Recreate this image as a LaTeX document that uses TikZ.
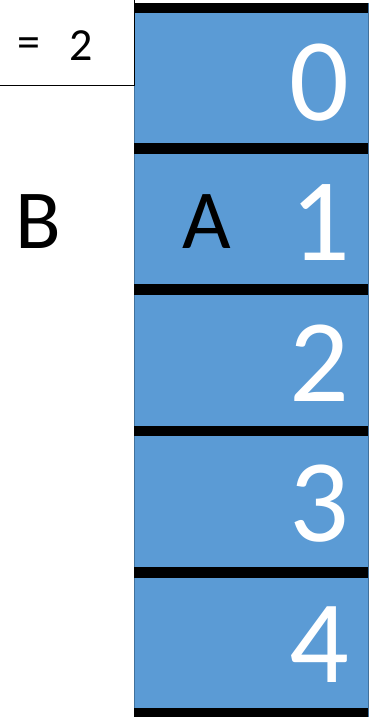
\documentclass[tikz,border=0pt]{standalone}
\usepackage{fontspec}
\setmainfont{Carlito}
\definecolor{cellblue}{HTML}{5B9BD5}
\definecolor{celledge}{HTML}{41719C}
\begin{document}
\begin{tikzpicture}[x=1pt,y=-1pt,
  bignum/.style={inner sep=0pt,text=white,font=\fontsize{118}{120}\selectfont},
  bigletter/.style={inner sep=0pt,text=black,font=\fontsize{84}{90}\selectfont},
  smalltext/.style={inner sep=0pt,text=black,font=\fontsize{46}{50}\selectfont},
  bar/.style={fill=black,draw=none}]
\useasboundingbox (0,0) rectangle (369,717);
% blue column
\fill[cellblue] (134,3) rectangle (368,717);
\draw[celledge,line width=1.5pt] (134.5,0) -- (134.5,717);
\draw[celledge,line width=1pt] (368,3) -- (368,717);
% separator bars
\foreach \y in {8,148.5,289.5,431,572.5,713}
  \fill[bar] (134,\y-5.25) rectangle (368,\y+5.25);
% top-left box
\draw[black,line width=1.5pt] (-2,85.5) -- (134.5,85.5) -- (134.5,-2);
\node[smalltext] (eq) at (29,48) {=};
\node[smalltext] (two) at (81,45.5) {2};
% numbers
\node[bignum] (n0) at (319,82.5) {0};
\node[bignum] (n1) at (320,222.5) {1};
\node[bignum] (n2) at (319,363) {2};
\node[bignum] (n3) at (319,504) {3};
\node[bignum] (n4) at (319,644.5) {4};
\node[bigletter] (A) at (206.5,222) {A};
\node[bigletter] (B) at (38,222) {B};
\end{tikzpicture}
\end{document}
